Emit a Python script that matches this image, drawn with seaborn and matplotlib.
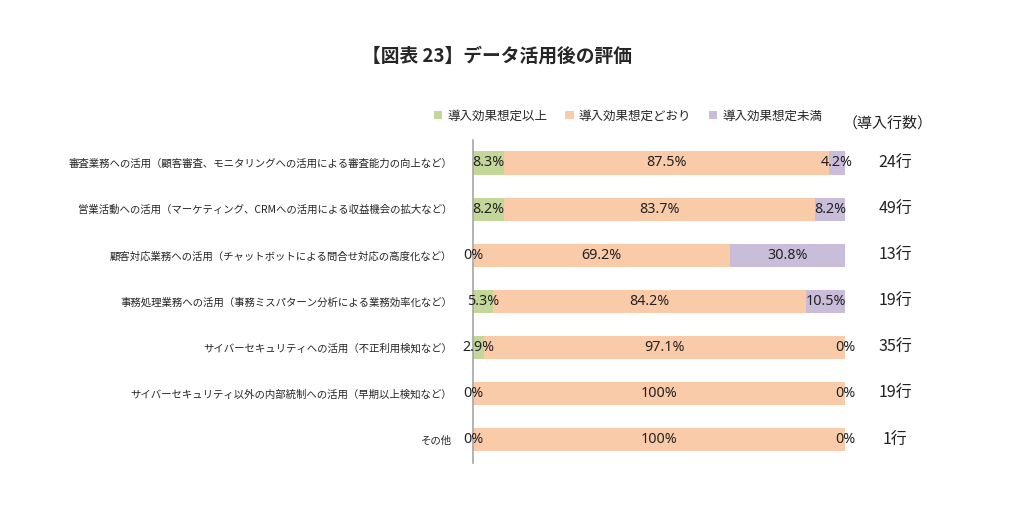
import matplotlib
matplotlib.use("Agg")
import matplotlib.pyplot as plt
import seaborn as sns
import numpy as np
import pandas as pd
from matplotlib.patches import Patch

# Data
categories = [
    "審査業務への活用（顧客審査、モニタリングへの活用による審査能力の向上など）",
    "営業活動への活用（マーケティング、CRMへの活用による収益機会の拡大など）",
    "顧客対応業務への活用（チャットボットによる問合せ対応の高度化など）",
    "事務処理業務への活用（事務ミスパターン分析による業務効率化など）",
    "サイバーセキュリティへの活用（不正利用検知など）",
    "サイバーセキュリティ以外の内部統制への活用（早期以上検知など）",
    "その他",
]
above = [8.3, 8.2, 0.0, 5.3, 2.9, 0.0, 0.0]
as_expected = [87.5, 83.7, 69.2, 84.2, 97.1, 100.0, 100.0]
below = [4.2, 8.2, 30.8, 10.5, 0.0, 0.0, 0.0]
counts = [24, 49, 13, 19, 35, 19, 1]

series_names = ["導入効果想定以上", "導入効果想定どおり", "導入効果想定未満"]
colors = ["#C4D79B", "#FACBA9", "#C9BDD9"]

sns.set_style("white")
plt.rcParams['font.family'] = ['Noto Sans CJK JP', 'DejaVu Sans']

df = pd.DataFrame({"cat": categories, "above": above,
                   "expected": as_expected, "below": below})
df["c1"] = df["above"]
df["c2"] = df["above"] + df["expected"]
df["c3"] = df["c2"] + df["below"]

fig = plt.figure(figsize=(10.23, 5.22), dpi=100)
ax = fig.add_axes([0.4624, 0.113, 0.3636, 0.619])

# stacked bars, drawn back to front
for col, color in zip(["c3", "c2", "c1"], colors[::-1]):
    sns.barplot(data=df, x=col, y="cat", orient="h", color=color,
                width=0.5, ax=ax, saturation=1, linewidth=0)

ax.set_xlim(0, 100)
ax.set_xlabel("")
ax.set_ylabel("")
ax.set_xticks([])
ax.tick_params(axis="y", length=0, pad=15, labelsize=7.5)
for s in ["top", "right", "bottom"]:
    ax.spines[s].set_visible(False)
ax.spines["left"].set_color("#A6A6A6")
ax.spines["left"].set_linewidth(1.2)

# value labels
for i in range(len(categories)):
    starts = [0, above[i], above[i] + as_expected[i]]
    vals = [above[i], as_expected[i], below[i]]
    for s, v in zip(starts, vals):
        txt = "0%" if v == 0 else ("100%" if v == 100 else f"{v:.1f}%")
        ax.text(s + v / 2, i, txt, ha="center", va="center", fontsize=10.3,
                color="#222222", family=["Noto Sans", "DejaVu Sans"])
    ax.text(113.5, i, f"{counts[i]}行", ha="center", va="center",
            fontsize=11.5, color="#222222")

ax.text(111.5, -0.85, "（導入行数）", ha="center", va="center", fontsize=10.8,
        color="#222222")

handles = [Patch(facecolor=c, edgecolor="none") for c in colors]
fig.legend(handles, series_names, loc="center left", ncol=3,
           bbox_to_anchor=(0.413, 0.778), frameon=False, fontsize=9.0,
           handlelength=0.7, handleheight=0.7, handletextpad=0.4,
           columnspacing=1.4)

fig.suptitle("【図表 23】データ活用後の評価", x=0.486, y=0.91,
             fontsize=13.5, fontweight="bold")

fig.savefig("out.png", dpi=100)
